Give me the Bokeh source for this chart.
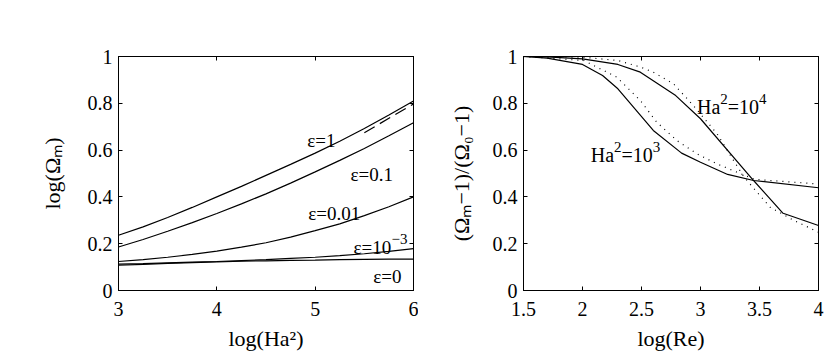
from bokeh.plotting import figure
from bokeh.models import Range1d, FixedTicker, LinearAxis, CustomJSTickFormatter, ColumnDataSource
from bokeh.layouts import row
from bokeh.embed import file_html
from bokeh.resources import INLINE
from bokeh.core.properties import value

# ---------------- left panel data ----------------
log_ha2 = [3.0, 3.25, 3.5, 3.75, 4.0, 4.25, 4.5, 4.75, 5.0, 5.25, 5.5, 5.75, 6.0]
eps_1 = [0.236, 0.272, 0.312, 0.355, 0.400, 0.445, 0.492, 0.539, 0.587, 0.638, 0.692, 0.750, 0.810]
eps_01 = [0.186, 0.218, 0.253, 0.290, 0.329, 0.370, 0.413, 0.459, 0.507, 0.556, 0.607, 0.661, 0.717]
eps_001 = [0.124, 0.132, 0.142, 0.154, 0.168, 0.185, 0.204, 0.228, 0.256, 0.285, 0.320, 0.358, 0.400]
eps_0001 = [0.113, 0.115, 0.118, 0.121, 0.124, 0.128, 0.132, 0.137, 0.142, 0.149, 0.157, 0.167, 0.179]
eps_0 = [0.108, 0.112, 0.116, 0.119, 0.122, 0.125, 0.127, 0.129, 0.130, 0.132, 0.133, 0.134, 0.134]
dash_x = [5.5, 5.75, 6.0]
dash_y = [0.674, 0.736, 0.797]

# label = list of (text, is_superscript) pieces
left_labels = [
    [("ε=1", False)],
    [("ε=0.1", False)],
    [("ε=0.01", False)],
    [("ε=10", False), ("−3", True)],
    [("ε=0", False)],
]
left_label_x = [4.92, 5.36, 4.93, 5.39, 5.59]
left_label_y = [0.643, 0.495, 0.328, 0.185, 0.06]

left_xticks = [3, 4, 5, 6]
left_yticks = [0, 0.2, 0.4, 0.6, 0.8, 1]

# ---------------- right panel data ----------------
ha3_x = [1.5, 1.7, 2.0, 2.17, 2.3, 2.6, 2.84, 3.0, 3.23, 3.45, 4.0]
ha3_y = [1.0, 0.993, 0.966, 0.919, 0.862, 0.684, 0.587, 0.548, 0.496, 0.470, 0.439]
ha4_x = [1.5, 1.7, 2.0, 2.3, 2.49, 2.79, 3.0, 3.45, 3.7, 4.0]
ha4_y = [1.0, 0.998, 0.99, 0.966, 0.933, 0.833, 0.734, 0.47, 0.33, 0.278]
dot4_x = [1.5, 2.0, 2.3, 2.49, 2.6, 2.77, 2.94, 3.14, 3.28, 3.37, 3.59, 3.79, 4.0]
dot4_y = [1.0, 0.997, 0.983, 0.955, 0.933, 0.884, 0.79, 0.67, 0.556, 0.484, 0.356, 0.30, 0.249]
dot3_x = [1.5, 2.01, 2.29, 2.49, 2.63, 2.80, 2.97, 3.14, 3.34, 3.46, 4.0]
dot3_y = [1.0, 0.983, 0.912, 0.812, 0.719, 0.641, 0.584, 0.541, 0.499, 0.475, 0.455]

right_labels = [
    [("Ha", False), ("2", True), ("=10", False), ("4", True)],
    [("Ha", False), ("2", True), ("=10", False), ("3", True)],
]
right_label_x = [2.97, 2.07]
right_label_y = [0.783, 0.577]

right_xticks = [1.5, 2, 2.5, 3, 3.5, 4]
right_yticks = [0, 0.2, 0.4, 0.6, 0.8, 1]

FONT = "Liberation Serif"
fmt_code = "return String(Math.round(tick*10)/10);"

# approximate advance widths (em) of Liberation Serif glyphs
EM = {"H": 0.722, "a": 0.444, "=": 0.564, ".": 0.25, "−": 0.564, "ε": 0.44}
for d in "0123456789":
    EM[d] = 0.5


def text_width(s, size):
    return sum(EM.get(c, 0.5) for c in s) * size


def style(p, xticks, yticks, xlabel, ylabel, ylabel_standoff):
    p.grid.visible = False
    p.outline_line_color = "black"
    p.outline_line_width = 1
    p.outline_line_alpha = 1
    p.background_fill_color = "white"
    p.border_fill_color = "white"
    p.xaxis.ticker = FixedTicker(ticks=xticks)
    p.yaxis.ticker = FixedTicker(ticks=yticks)
    p.xaxis.formatter = CustomJSTickFormatter(code=fmt_code)
    p.yaxis.formatter = CustomJSTickFormatter(code=fmt_code)
    p.xaxis.axis_label = xlabel
    p.yaxis.axis_label = ylabel
    for ax in p.axis:
        ax.axis_line_color = "black"
        ax.major_tick_in = 4
        ax.major_tick_out = 0
        ax.major_tick_line_color = "black"
        ax.minor_tick_line_color = None
        ax.major_label_text_font = FONT
        ax.major_label_text_font_size = "20px"
        ax.major_label_text_color = "black"
        ax.axis_label_text_font = FONT
        ax.axis_label_text_font_size = "22px"
        ax.axis_label_text_font_style = "normal"
        ax.axis_label_text_color = "black"
    p.xaxis.major_label_standoff = 11
    p.xaxis.axis_label_standoff = 7
    p.yaxis.major_label_standoff = 6
    p.yaxis.axis_label_standoff = ylabel_standoff
    for loc, ticks in (("above", xticks), ("right", yticks)):
        ax = LinearAxis(ticker=FixedTicker(ticks=ticks), major_label_text_font_size="0px",
                        major_label_standoff=0, axis_line_color="black",
                        major_tick_in=4, major_tick_out=0, minor_tick_line_color=None,
                        formatter=CustomJSTickFormatter(code="return '';"))
        p.add_layout(ax, loc)


def add_labels(p, labels, xs, ys, size, sup_size, sup_rise):
    main = dict(x=[], y=[], t=[], dx=[])
    sup = dict(x=[], y=[], t=[], dx=[])
    for pieces, x, y in zip(labels, xs, ys):
        off = 0.0
        for txt, is_sup in pieces:
            d = sup if is_sup else main
            d["x"].append(x)
            d["y"].append(y)
            d["t"].append(txt)
            d["dx"].append(off)
            off += text_width(txt, sup_size if is_sup else size)
    p.text(x="x", y="y", text="t", x_offset="dx", source=ColumnDataSource(main),
           text_font=value(FONT), text_font_size=f"{size}px", text_color="black",
           text_align="left", text_baseline="alphabetic")
    if sup["t"]:
        p.text(x="x", y="y", text="t", x_offset="dx", y_offset=-sup_rise,
               source=ColumnDataSource(sup), text_font=value(FONT),
               text_font_size=f"{sup_size}px", text_color="black",
               text_align="left", text_baseline="alphabetic")


# ---------------- left figure ----------------
p1 = figure(width=418, height=354, output_backend="svg", toolbar_location=None,
            x_range=Range1d(3, 6), y_range=Range1d(0, 1),
            min_border_left=118, min_border_right=5, min_border_top=56, min_border_bottom=64)
style(p1, left_xticks, left_yticks, "log(Ha²)", "log(Ωₘ)", 20)
lw = 1.2
for ys in (eps_1, eps_01, eps_001, eps_0001, eps_0):
    p1.line(log_ha2, ys, line_color="black", line_width=lw)
p1.line(dash_x, dash_y, line_color="black", line_width=lw, line_dash="12 6")
add_labels(p1, left_labels, left_label_x, left_label_y, 19, 15, 8)

# ---------------- right figure ----------------
p2 = figure(width=412, height=354, output_backend="svg", toolbar_location=None,
            x_range=Range1d(1.5, 4), y_range=Range1d(0, 1),
            min_border_left=105, min_border_right=12, min_border_top=56, min_border_bottom=64)
style(p2, right_xticks, right_yticks, "log(Re)", "(Ωₘ−1)/(Ω₀−1)", 16)
p2.line(ha3_x, ha3_y, line_color="black", line_width=lw)
p2.line(ha4_x, ha4_y, line_color="black", line_width=lw)
p2.line(dot4_x, dot4_y, line_color="black", line_width=1.2, line_dash="1 5")
p2.line(dot3_x, dot3_y, line_color="black", line_width=1.2, line_dash="1 5")
add_labels(p2, right_labels, right_label_x, right_label_y, 20, 15, 8)

layout = row(p1, p2)
open("out.html", "w").write(file_html(layout, INLINE))
